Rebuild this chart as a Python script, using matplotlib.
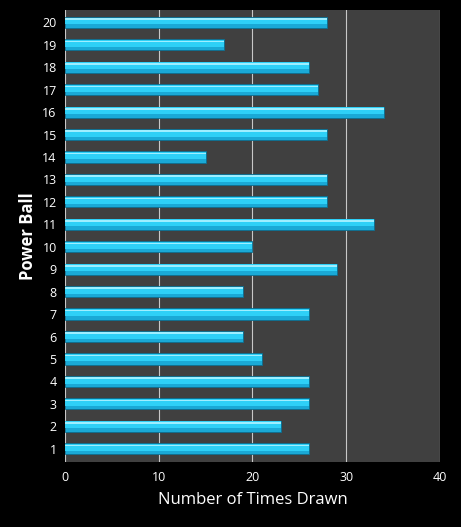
import matplotlib.pyplot as plt
import numpy as np

balls = list(range(1, 21))
times_drawn = [26, 23, 26, 26, 21, 19, 26, 19, 29, 20, 33, 28, 28, 15, 28, 34, 27, 26, 17, 28]

plt.rcParams["font.family"] = ["Open Sans", "DejaVu Sans"]

fig = plt.figure(figsize=(4.61, 5.27), dpi=100, facecolor="black")
ax = fig.add_axes([0.141, 0.123, 0.813, 0.858])
ax.set_facecolor("#404040")

y = np.arange(len(balls))
h = 0.5
# main bar body with darker underside and lighter top highlight for a 3D look
ax.barh(y, times_drawn, height=h, color="#1aa9d6", edgecolor="#0c6f90", linewidth=0.6, zorder=3)
ax.barh(y + h * 0.12, times_drawn, height=h * 0.62, color="#2ed0f7", linewidth=0, zorder=4)
ax.barh(y + h * 0.3, times_drawn, height=h * 0.14, color="#9eeeff", linewidth=0, zorder=5)

ax.set_xlim(0, 40)
ax.set_ylim(-0.6, len(balls) - 0.45)
ax.set_xticks([0, 10, 20, 30, 40])
ax.set_yticks(y)
ax.set_yticklabels([str(b) for b in balls])
ax.xaxis.grid(True, color="#c8c8c8", lw=0.8, zorder=0)
ax.set_axisbelow(True)
ax.tick_params(colors="white", labelsize=9, length=0, pad=6)
for s in ax.spines.values():
    s.set_visible(False)

ax.set_xlabel("Number of Times Drawn", color="white", fontsize=12, labelpad=6)
ax.set_ylabel("Power Ball", color="white", fontsize=12, fontweight="bold", labelpad=4)

fig.savefig("out.png", dpi=100, facecolor="black")
